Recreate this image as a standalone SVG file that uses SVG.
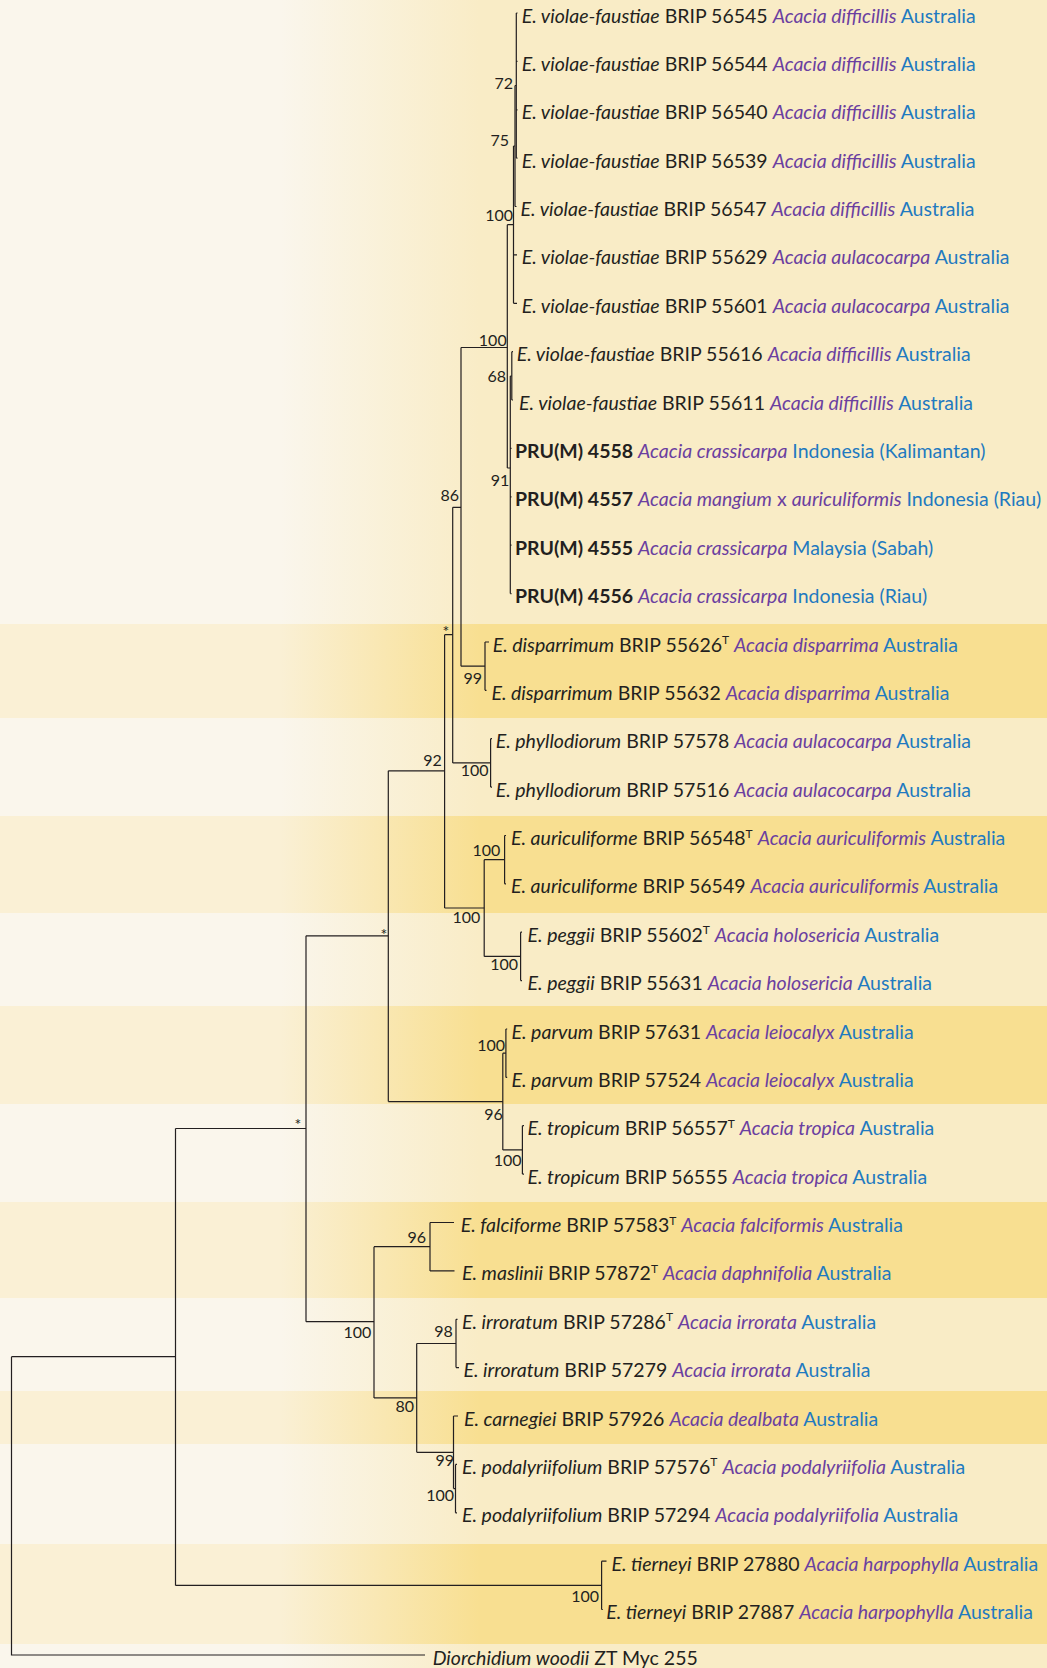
<svg xmlns="http://www.w3.org/2000/svg" width="1047" height="1668" viewBox="0 0 1047 1668">
<defs>
<linearGradient id="gl" gradientUnits="userSpaceOnUse" x1="280" y1="0" x2="480" y2="0"><stop offset="0" stop-color="#FAF6EC"/><stop offset="1" stop-color="#F9ECC6"/></linearGradient>
<linearGradient id="gd" gradientUnits="userSpaceOnUse" x1="280" y1="0" x2="480" y2="0"><stop offset="0" stop-color="#FAF0D5"/><stop offset="1" stop-color="#F8DF91"/></linearGradient>
<style>
.l{fill:url(#gl)}
.d{fill:url(#gd)}
.br{fill:none;stroke:#231f20;stroke-width:1.2}
text{font-family:Lato,"Open Sans","Liberation Sans",sans-serif;fill:#231f20}
.t{font-size:19.5px}
.i{font-style:italic}
.h{font-style:italic;fill:#6b3fa0}
.hx{fill:#6b3fa0}
.c{fill:#1f7ac0}
.p{font-weight:bold}
.s{font-size:12px}
.bs{font-size:16px;text-anchor:end}
.as{font-size:16px;text-anchor:middle}
</style>
</defs>
<g id="background">
<rect class="l" x="0" y="0" width="1047" height="624"/>
<rect class="d" x="0" y="624" width="1047" height="94"/>
<rect class="l" x="0" y="718" width="1047" height="98"/>
<rect class="d" x="0" y="816" width="1047" height="97"/>
<rect class="l" x="0" y="913" width="1047" height="93"/>
<rect class="d" x="0" y="1006" width="1047" height="98"/>
<rect class="l" x="0" y="1104" width="1047" height="98"/>
<rect class="d" x="0" y="1202" width="1047" height="96"/>
<rect class="l" x="0" y="1298" width="1047" height="93"/>
<rect class="d" x="0" y="1391" width="1047" height="53"/>
<rect class="l" x="0" y="1444" width="1047" height="100"/>
<rect class="d" x="0" y="1544" width="1047" height="100"/>
<rect class="l" x="0" y="1644" width="1047" height="24"/>
</g>
<g id="connectors" class="br">
<path d="M11.5 1356.7V1655H425M11.5 1356.7H175.5"/>
<path d="M175.5 1128.5V1585.4M175.5 1128.5H306M175.5 1585.4H601.6"/>
<path d="M601.6 1561.2V1609.5M601.6 1561.2H606.5M601.6 1609.5H602.8"/>
<path d="M306 935.8V1321.7M306 935.8H388.3M306 1321.7H374"/>
<path d="M388.3 770.8V1101.6M388.3 770.8H444.6M388.3 1101.6H502.8"/>
<path d="M444.6 634.7V908M444.6 634.7H452.7M444.6 908H484.2"/>
<path d="M452.7 507.3V762.9M452.7 507.3H461M452.7 762.9H490.6"/>
<path d="M461 347.5V666.2M461 347.5H507.3M461 666.2H485"/>
<path d="M485 642V690.3M485 642H489M485 690.3H486.5"/>
<path d="M490.6 738.7V787.1M490.6 738.7H492M490.6 787.1H492"/>
<path d="M484.2 859.7V956.4M484.2 859.7H504.6M484.2 956.4H520.6"/>
<path d="M504.6 835.5V883.8M504.6 835.5H506M504.6 883.8H506"/>
<path d="M520.6 932.2V980.6M520.6 932.2H522M520.6 980.6H522"/>
<path d="M502.8 1053.2V1149.9M502.8 1053.2H505.9M502.8 1149.9H522.4"/>
<path d="M505.9 1029V1077.4M505.9 1029H507.2M505.9 1077.4H507.2"/>
<path d="M522.4 1125.7V1174.1M522.4 1125.7H524M522.4 1174.1H524"/>
<path d="M374 1246.7V1397.9M374 1246.7H430M374 1397.9H416.7"/>
<path d="M430 1222.5V1270.9M430 1222.5H454M430 1270.9H454.5"/>
<path d="M416.7 1343.5V1452.3M416.7 1343.5H456M416.7 1452.3H453.5"/>
<path d="M456 1319.3V1367.6M456 1319.3H457.5M456 1367.6H459"/>
<path d="M453.5 1416V1488.6M453.5 1416H458M453.5 1488.6H455.5"/>
<path d="M455.5 1464.4V1512.8M455.5 1464.4H457M455.5 1512.8H457"/>
<path d="M507.3 224.7V468M507.3 224.7H513.5M507.3 468H510.3"/>
<path d="M513.5 146V303.3M513.5 146H515M513.5 254.9H517M513.5 303.3H517"/>
<path d="M515 85.5V206.5M515 85.5H516.3M515 206.5H516.5"/>
<path d="M516.3 13V158.1M516.3 13H517.5M516.3 61.4H517.5M516.3 109.8H517.5M516.3 158.1H517.5"/>
<path d="M510.3 376V593.6M510.3 376H511.8M510.3 448.4H511.5M510.3 496.8H511.5M510.3 545.2H511.5M510.3 593.6H511.5"/>
<path d="M511.8 351.7V400M511.8 351.7H513M511.8 400H513"/>
</g>
<g id="support">
<text class="bs" x="513" y="88.5">72</text>
<text class="bs" x="509" y="145.5">75</text>
<text class="bs" x="513" y="220.5">100</text>
<text class="bs" x="506.7" y="345.5">100</text>
<text class="bs" x="506" y="382">68</text>
<text class="bs" x="509.3" y="485.5">91</text>
<text class="bs" x="459" y="500.5">86</text>
<text class="as" x="446" y="637">*</text>
<text class="bs" x="482" y="683.5">99</text>
<text class="bs" x="441.7" y="766.2">92</text>
<text class="bs" x="488.5" y="776.2">100</text>
<text class="bs" x="500.4" y="856.2">100</text>
<text class="bs" x="480.4" y="922.8">100</text>
<text class="as" x="384" y="940">*</text>
<text class="bs" x="518" y="969.8">100</text>
<text class="bs" x="505" y="1050.5">100</text>
<text class="bs" x="502.8" y="1119.8">96</text>
<text class="bs" x="521.5" y="1165.5">100</text>
<text class="as" x="298" y="1129.5">*</text>
<text class="bs" x="426" y="1242.8">96</text>
<text class="bs" x="371.3" y="1337.8">100</text>
<text class="bs" x="452.7" y="1337.2">98</text>
<text class="bs" x="414" y="1412.2">80</text>
<text class="bs" x="454" y="1465.5">99</text>
<text class="bs" x="454" y="1500.5">100</text>
<text class="bs" x="599" y="1601.5">100</text>
</g>
<g id="taxa" class="t">
<g id="t0"><text x="521.7" y="22.5"><tspan class="i">E. violae-faustiae</tspan> BRIP 56545 <tspan class="h">Acacia difficillis</tspan> <tspan class="c">Australia</tspan></text></g>
<g id="t1"><text x="521.7" y="70.9"><tspan class="i">E. violae-faustiae</tspan> BRIP 56544 <tspan class="h">Acacia difficillis</tspan> <tspan class="c">Australia</tspan></text></g>
<g id="t2"><text x="521.7" y="119.3"><tspan class="i">E. violae-faustiae</tspan> BRIP 56540 <tspan class="h">Acacia difficillis</tspan> <tspan class="c">Australia</tspan></text></g>
<g id="t3"><text x="521.7" y="167.6"><tspan class="i">E. violae-faustiae</tspan> BRIP 56539 <tspan class="h">Acacia difficillis</tspan> <tspan class="c">Australia</tspan></text></g>
<g id="t4"><text x="520.5" y="216"><tspan class="i">E. violae-faustiae</tspan> BRIP 56547 <tspan class="h">Acacia difficillis</tspan> <tspan class="c">Australia</tspan></text></g>
<g id="t5"><text x="521.7" y="264.4"><tspan class="i">E. violae-faustiae</tspan> BRIP 55629 <tspan class="h">Acacia aulacocarpa</tspan> <tspan class="c">Australia</tspan></text></g>
<g id="t6"><text x="521.7" y="312.8"><tspan class="i">E. violae-faustiae</tspan> BRIP 55601 <tspan class="h">Acacia aulacocarpa</tspan> <tspan class="c">Australia</tspan></text></g>
<g id="t7"><text x="516.7" y="361.2"><tspan class="i">E. violae-faustiae</tspan> BRIP 55616 <tspan class="h">Acacia difficillis</tspan> <tspan class="c">Australia</tspan></text></g>
<g id="t8"><text x="519" y="409.5"><tspan class="i">E. violae-faustiae</tspan> BRIP 55611 <tspan class="h">Acacia difficillis</tspan> <tspan class="c">Australia</tspan></text></g>
<g id="t9"><text x="515" y="457.9"><tspan class="p">PRU(M) 4558</tspan> <tspan class="h">Acacia crassicarpa</tspan> <tspan class="c">Indonesia (Kalimantan)</tspan></text></g>
<g id="t10"><text x="515" y="506.3"><tspan class="p">PRU(M) 4557</tspan> <tspan class="h">Acacia mangium</tspan> <tspan class="hx">x</tspan> <tspan class="h">auriculiformis</tspan> <tspan class="c">Indonesia (Riau)</tspan></text></g>
<g id="t11"><text x="515" y="554.7"><tspan class="p">PRU(M) 4555</tspan> <tspan class="h">Acacia crassicarpa</tspan> <tspan class="c">Malaysia (Sabah)</tspan></text></g>
<g id="t12"><text x="515" y="603.1"><tspan class="p">PRU(M) 4556</tspan> <tspan class="h">Acacia crassicarpa</tspan> <tspan class="c">Indonesia (Riau)</tspan></text></g>
<g id="t13"><text x="492.7" y="651.5"><tspan class="i">E. disparrimum</tspan> BRIP 55626<tspan class="s" dy="-7.5">T</tspan> <tspan class="h" dy="7.5">Acacia disparrima</tspan> <tspan class="c">Australia</tspan></text></g>
<g id="t14"><text x="491.4" y="699.8"><tspan class="i">E. disparrimum</tspan> BRIP 55632 <tspan class="h">Acacia disparrima</tspan> <tspan class="c">Australia</tspan></text></g>
<g id="t15"><text x="495.7" y="748.2"><tspan class="i">E. phyllodiorum</tspan> BRIP 57578 <tspan class="h">Acacia aulacocarpa</tspan> <tspan class="c">Australia</tspan></text></g>
<g id="t16"><text x="495.7" y="796.6"><tspan class="i">E. phyllodiorum</tspan> BRIP 57516 <tspan class="h">Acacia aulacocarpa</tspan> <tspan class="c">Australia</tspan></text></g>
<g id="t17"><text x="511" y="845"><tspan class="i">E. auriculiforme</tspan> BRIP 56548<tspan class="s" dy="-7.5">T</tspan> <tspan class="h" dy="7.5">Acacia auriculiformis</tspan> <tspan class="c">Australia</tspan></text></g>
<g id="t18"><text x="511" y="893.3"><tspan class="i">E. auriculiforme</tspan> BRIP 56549 <tspan class="h">Acacia auriculiformis</tspan> <tspan class="c">Australia</tspan></text></g>
<g id="t19"><text x="527.6" y="941.7"><tspan class="i">E. peggii</tspan> BRIP 55602<tspan class="s" dy="-7.5">T</tspan> <tspan class="h" dy="7.5">Acacia holosericia</tspan> <tspan class="c">Australia</tspan></text></g>
<g id="t20"><text x="527.6" y="990.1"><tspan class="i">E. peggii</tspan> BRIP 55631 <tspan class="h">Acacia holosericia</tspan> <tspan class="c">Australia</tspan></text></g>
<g id="t21"><text x="511.5" y="1038.5"><tspan class="i">E. parvum</tspan> BRIP 57631 <tspan class="h">Acacia leiocalyx</tspan> <tspan class="c">Australia</tspan></text></g>
<g id="t22"><text x="511.5" y="1086.9"><tspan class="i">E. parvum</tspan> BRIP 57524 <tspan class="h">Acacia leiocalyx</tspan> <tspan class="c">Australia</tspan></text></g>
<g id="t23"><text x="527.6" y="1135.2"><tspan class="i">E. tropicum</tspan> BRIP 56557<tspan class="s" dy="-7.5">T</tspan> <tspan class="h" dy="7.5">Acacia tropica</tspan> <tspan class="c">Australia</tspan></text></g>
<g id="t24"><text x="527.6" y="1183.6"><tspan class="i">E. tropicum</tspan> BRIP 56555 <tspan class="h">Acacia tropica</tspan> <tspan class="c">Australia</tspan></text></g>
<g id="t25"><text x="460.7" y="1232"><tspan class="i">E. falciforme</tspan> BRIP 57583<tspan class="s" dy="-7.5">T</tspan> <tspan class="h" dy="7.5">Acacia falciformis</tspan> <tspan class="c">Australia</tspan></text></g>
<g id="t26"><text x="462" y="1280.4"><tspan class="i">E. maslinii</tspan> BRIP 57872<tspan class="s" dy="-7.5">T</tspan> <tspan class="h" dy="7.5">Acacia daphnifolia</tspan> <tspan class="c">Australia</tspan></text></g>
<g id="t27"><text x="462" y="1328.8"><tspan class="i">E. irroratum</tspan> BRIP 57286<tspan class="s" dy="-7.5">T</tspan> <tspan class="h" dy="7.5">Acacia irrorata</tspan> <tspan class="c">Australia</tspan></text></g>
<g id="t28"><text x="463.4" y="1377.1"><tspan class="i">E. irroratum</tspan> BRIP 57279 <tspan class="h">Acacia irrorata</tspan> <tspan class="c">Australia</tspan></text></g>
<g id="t29"><text x="464" y="1425.5"><tspan class="i">E. carnegiei</tspan> BRIP 57926 <tspan class="h">Acacia dealbata</tspan> <tspan class="c">Australia</tspan></text></g>
<g id="t30"><text x="462" y="1473.9"><tspan class="i">E. podalyriifolium</tspan> BRIP 57576<tspan class="s" dy="-7.5">T</tspan> <tspan class="h" dy="7.5">Acacia podalyriifolia</tspan> <tspan class="c">Australia</tspan></text></g>
<g id="t31"><text x="462" y="1522.3"><tspan class="i">E. podalyriifolium</tspan> BRIP 57294 <tspan class="h">Acacia podalyriifolia</tspan> <tspan class="c">Australia</tspan></text></g>
<g id="t32"><text x="611.6" y="1570.7"><tspan class="i">E. tierneyi</tspan> BRIP 27880 <tspan class="h">Acacia harpophylla</tspan> <tspan class="c">Australia</tspan></text></g>
<g id="t33"><text x="606.3" y="1619"><tspan class="i">E. tierneyi</tspan> BRIP 27887 <tspan class="h">Acacia harpophylla</tspan> <tspan class="c">Australia</tspan></text></g>
<g id="t34"><text x="432.7" y="1665"><tspan class="i">Diorchidium woodii</tspan> ZT Myc 255</text></g>
</g>
</svg>
